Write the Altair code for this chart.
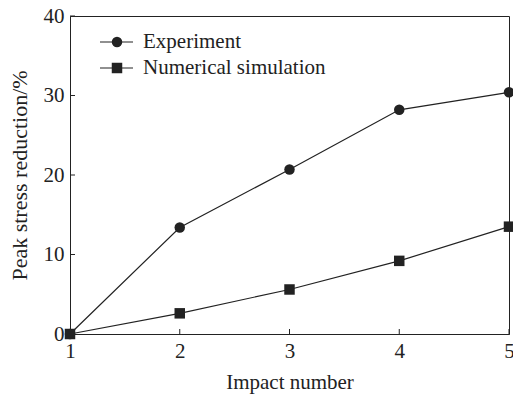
import altair as alt
import pandas as pd

impact = [1, 2, 3, 4, 5]
experiment = [0, 13.4, 20.7, 28.2, 30.4]
simulation = [0, 2.6, 5.6, 9.2, 13.5]
series_names = ["Experiment", "Numerical simulation"]
shapes = ["circle", "square"]
x_ticks = [1, 2, 3, 4, 5]
y_ticks = [0, 10, 20, 30, 40]

df = pd.DataFrame({
    "impact": impact * 2,
    "value": experiment + simulation,
    "series": [series_names[0]] * len(impact) + [series_names[1]] * len(impact),
})

W, H = 439, 318
FONT = "Liberation Serif"
INK = "#222222"

xscale = alt.Scale(domain=[1, 5], nice=False, zero=False)
yscale = alt.Scale(domain=[0, 40], nice=False)

x_main = alt.X("impact:Q", scale=xscale,
               axis=alt.Axis(values=x_ticks, title="Impact number", format="d",
                             tickSize=0, labelPadding=6, titlePadding=10,
                             labelFlush=False, titleFontSize=21))
y_main = alt.Y("value:Q", scale=yscale,
               axis=alt.Axis(values=y_ticks, title="Peak stress reduction/%", format="d",
                             tickSize=0, labelPadding=6, titlePadding=12,
                             labelFlush=False, titleFontSize=22))

lines = alt.Chart(df).mark_line(color=INK, strokeWidth=1.2).encode(
    x=x_main, y=y_main, detail="series:N")

points = alt.Chart(df).mark_point(filled=True, size=110, opacity=1, color=INK).encode(
    x=x_main, y=y_main,
    shape=alt.Shape("series:N", scale=alt.Scale(domain=series_names, range=shapes), legend=None),
)

ytick_df = pd.DataFrame({"value": y_ticks})
xtick_df = pd.DataFrame({"impact": x_ticks})
yticks = alt.Chart(ytick_df).mark_rule(color=INK, strokeWidth=1).encode(
    y=y_main, x=alt.value(0), x2=alt.value(5))
xticks = alt.Chart(xtick_df).mark_rule(color=INK, strokeWidth=1).encode(
    x=x_main, y=alt.value(H), y2=alt.value(H - 5))

legend_layers = []
for i, name in enumerate(series_names):
    ldf = pd.DataFrame({"series": [name]})
    ly = 26 + i * 26
    legend_layers.append(alt.Chart(ldf).mark_rule(color=INK, strokeWidth=1.2).encode(
        x=alt.value(30), x2=alt.value(63), y=alt.value(ly)))
    legend_layers.append(alt.Chart(ldf).mark_point(filled=True, size=110, opacity=1, color=INK,
                                                   shape=shapes[i]).encode(
        x=alt.value(47), y=alt.value(ly)))
    legend_layers.append(alt.Chart(ldf).mark_text(align="left", baseline="middle", font=FONT,
                                                  fontSize=21, color=INK).encode(
        x=alt.value(73), y=alt.value(ly), text="series:N"))

chart = alt.layer(lines, points, yticks, xticks, *legend_layers).properties(
    width=W, height=H,
    autosize=alt.AutoSizeParams(type="none"),
    padding={"left": 70, "top": 16, "right": 4, "bottom": 62},
    background="white",
).configure_view(stroke=INK, strokeWidth=1).configure_axis(
    grid=False, domainColor=INK, domainWidth=1,
    labelFont=FONT, labelFontSize=21, labelColor=INK,
    titleFont=FONT, titleFontWeight="normal", titleColor=INK,
)

chart.save("out.html", embed_options={"renderer": "svg", "actions": False})
